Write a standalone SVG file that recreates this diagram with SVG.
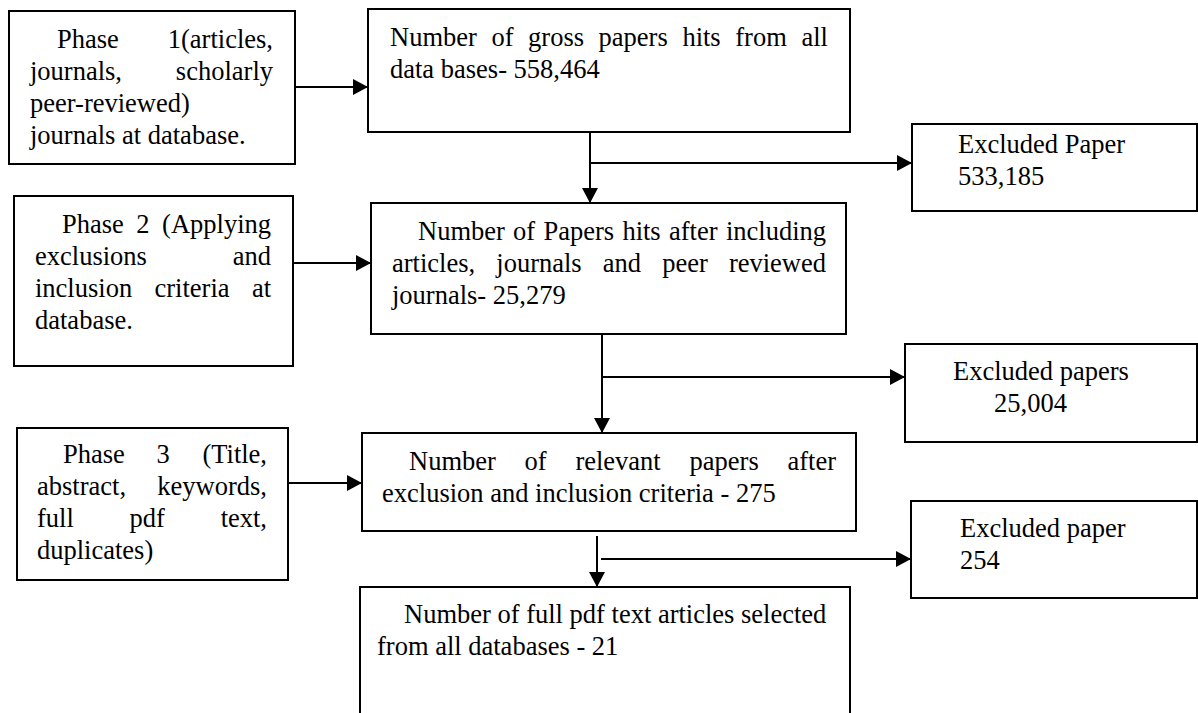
<svg xmlns="http://www.w3.org/2000/svg" width="1198" height="713" viewBox="0 0 1198 713">
<defs>
<style>
.box{fill:#fff;stroke:#000;stroke-width:2}
.t{font-family:"Liberation Serif","Times New Roman",serif;font-size:26.5px;fill:#000}
.e{text-anchor:end}
.c{fill:none;stroke:#000;stroke-width:2}
</style>
<marker id="ah" markerWidth="15" markerHeight="16" refX="15" refY="8" orient="auto" markerUnits="userSpaceOnUse">
<path d="M0,0 L15,8 L0,16 z" fill="#000"/>
</marker>
</defs>
<rect width="1198" height="713" fill="#fff"/>

<g id="phase1">
<rect class="box" x="9" y="11" width="286" height="153"/>
<text class="t" x="57" y="48">Phase</text>
<text class="t e" x="273" y="48">1(articles,</text>
<text class="t" x="30" y="80">journals,</text>
<text class="t e" x="273" y="80">scholarly</text>
<text class="t" x="30" y="112">peer-reviewed)</text>
<text class="t" x="30" y="144">journals at database.</text>
</g>

<g id="gross">
<rect class="box" x="368" y="9" width="482" height="123"/>
<text class="t" y="46"><tspan x="390">Number</tspan><tspan x="491.4">of</tspan><tspan x="528.1">gross</tspan><tspan x="598.6">papers</tspan><tspan x="682.4">hits</tspan><tspan x="735.3">from</tspan></text>
<text class="t e" x="828" y="46">all</text>
<text class="t" x="390" y="78">data bases- 558,464</text>
</g>

<g id="excl1">
<rect class="box" x="912" y="124" width="285" height="87"/>
<text class="t" x="958" y="153">Excluded Paper</text>
<text class="t" x="958" y="185">533,185</text>
</g>

<g id="phase2">
<rect class="box" x="14" y="196" width="279" height="170"/>
<text class="t" y="233"><tspan x="62">Phase</tspan><tspan x="136.3">2</tspan></text>
<text class="t e" x="271" y="233">(Applying</text>
<text class="t" x="35" y="265">exclusions</text>
<text class="t e" x="271" y="265">and</text>
<text class="t" y="297"><tspan x="35">inclusion</tspan><tspan x="154.5">criteria</tspan></text>
<text class="t e" x="271" y="297">at</text>
<text class="t" x="35" y="329">database.</text>
</g>

<g id="hits">
<rect class="box" x="371" y="203" width="475" height="131"/>
<text class="t" y="240"><tspan x="418">Number</tspan><tspan x="513.1">of</tspan><tspan x="543.5">Papers</tspan><tspan x="622.4">hits</tspan><tspan x="669">after</tspan></text>
<text class="t e" x="826" y="240">including</text>
<text class="t" y="272"><tspan x="392">articles,</tspan><tspan x="496.3">journals</tspan><tspan x="602.8">and</tspan><tspan x="662.2">peer</tspan></text>
<text class="t e" x="826" y="272">reviewed</text>
<text class="t" x="392" y="304">journals- 25,279</text>
</g>

<g id="excl2">
<rect class="box" x="905" y="344" width="292" height="98"/>
<text class="t" x="953" y="380">Excluded papers</text>
<text class="t" x="994" y="412">25,004</text>
</g>

<g id="phase3">
<rect class="box" x="17" y="428" width="271" height="152"/>
<text class="t" y="463"><tspan x="63">Phase</tspan><tspan x="156.5">3</tspan></text>
<text class="t e" x="267" y="463">(Title,</text>
<text class="t" x="37" y="495">abstract,</text>
<text class="t e" x="267" y="495">keywords,</text>
<text class="t" y="527"><tspan x="37">full</tspan><tspan x="129.6">pdf</tspan></text>
<text class="t e" x="267" y="527">text,</text>
<text class="t" x="37" y="559">duplicates)</text>
</g>

<g id="relevant">
<rect class="box" x="362" y="433" width="494" height="98"/>
<text class="t" y="470"><tspan x="409">Number</tspan><tspan x="524.6">of</tspan><tspan x="575.4">relevant</tspan><tspan x="689.6">papers</tspan></text>
<text class="t e" x="836" y="470">after</text>
<text class="t" x="382" y="502">exclusion and inclusion criteria - 275</text>
</g>

<g id="excl3">
<rect class="box" x="911" y="501" width="286" height="97"/>
<text class="t" x="960" y="537">Excluded paper</text>
<text class="t" x="960" y="569">254</text>
</g>

<g id="selected">
<rect class="box" x="360" y="587" width="490" height="140"/>
<text class="t" x="404" y="623">Number of full pdf text articles selected</text>
<text class="t" x="377" y="655">from all databases - 21</text>
</g>

<g id="connectors">
<path class="c" d="M295,87 H368" marker-end="url(#ah)"/>
<path class="c" d="M590,132 V203" marker-end="url(#ah)"/>
<path class="c" d="M590,163 H912" marker-end="url(#ah)"/>
<path class="c" d="M293,263 H371" marker-end="url(#ah)"/>
<path class="c" d="M602,334 V433" marker-end="url(#ah)"/>
<path class="c" d="M602,377 H905" marker-end="url(#ah)"/>
<path class="c" d="M288,483 H362" marker-end="url(#ah)"/>
<path class="c" d="M597,536 V587" marker-end="url(#ah)"/>
<path class="c" d="M601,559 H911" marker-end="url(#ah)"/>
</g>
</svg>
